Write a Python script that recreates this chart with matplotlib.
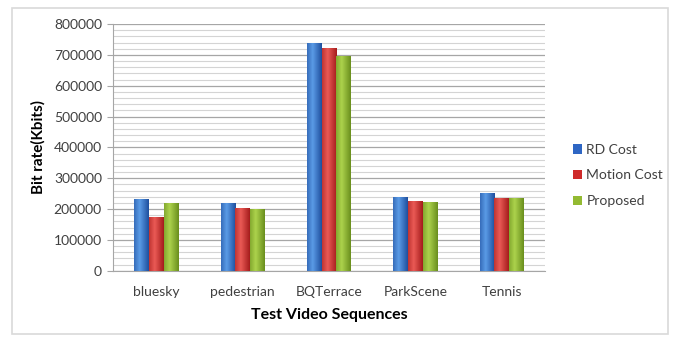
import numpy as np
import matplotlib
matplotlib.use("Agg")
import matplotlib.pyplot as plt
from matplotlib.colors import LinearSegmentedColormap
from matplotlib.patches import Rectangle
from matplotlib.ticker import MultipleLocator, FuncFormatter

categories = ["bluesky", "pedestrian", "BQTerrace", "ParkScene", "Tennis"]
series_names = ["RD Cost", "Motion Cost", "Proposed"]
rd_cost = [232000, 218000, 740000, 240000, 251000]
motion_cost = [175000, 204000, 722000, 227000, 235000]
proposed = [219000, 201000, 697000, 222000, 235000]
y_ticks = [0, 100000, 200000, 300000, 400000, 500000, 600000, 700000, 800000]

# (dark edge, light centre) for the cylinder-like shading
shades = [("#1f4f9e", "#5a9be6"), ("#a51c1c", "#ea5a55"), ("#6a8f1e", "#acd24c")]
legend_colors = ["#2e66c4", "#cf2a2a", "#93ba32"]

plt.rcParams["font.family"] = ["Lato", "DejaVu Sans"]

fig = plt.figure(figsize=(6.77, 3.41), dpi=100)
fig.patches.append(Rectangle((12 / 677, 1 - 334 / 341), 656 / 677, 326 / 341,
                             transform=fig.transFigure, fill=False,
                             edgecolor="#d9d9d9", linewidth=1.2))
ax = fig.add_axes([113 / 677, 1 - 270.7 / 341, 432 / 677, 246.7 / 341])

x = np.arange(len(categories))
width = 0.17
grad = np.linspace(0, 1, 64)
grad = 1 - np.abs(grad - 0.38) / 0.62
grad = np.clip(grad, 0, 1)[None, :]

for i, vals in enumerate([rd_cost, motion_cost, proposed]):
    dark, light = shades[i]
    cmap = LinearSegmentedColormap.from_list(f"s{i}", [dark, light])
    bars = ax.bar(x + (i - 1) * width, vals, width, color=legend_colors[i],
                  label=series_names[i], zorder=3)
    for b in bars:
        x0, w, h = b.get_x(), b.get_width(), b.get_height()
        im = ax.imshow(grad, cmap=cmap, aspect="auto",
                       extent=[x0, x0 + w, 0, h], zorder=4, vmin=0, vmax=1)
        im.set_clip_path(b)

ax.set_xlim(-0.5, len(categories) - 0.5)
ax.set_ylim(0, 800000)
ax.set_yticks(y_ticks)
ax.yaxis.set_minor_locator(MultipleLocator(20000))
ax.yaxis.set_major_formatter(FuncFormatter(lambda v, p: f"{int(v)}"))
ax.set_xticks(x)
ax.set_xticklabels(categories)
ax.grid(axis="y", which="major", color="#a6a6a6", linewidth=0.9, zorder=0)
ax.grid(axis="y", which="minor", color="#d4d4d4", linewidth=0.8, zorder=0)
ax.set_axisbelow(True)

for s in ["top", "right"]:
    ax.spines[s].set_visible(False)
for s in ["left", "bottom"]:
    ax.spines[s].set_color("#a6a6a6")
ax.tick_params(axis="y", which="major", length=4, color="#a6a6a6",
               labelsize=10, labelcolor="#404040", pad=4)
ax.tick_params(axis="y", which="minor", length=0)
ax.tick_params(axis="x", length=0, labelsize=10, labelcolor="#404040", pad=11)

ax.set_ylabel("Bit rate(Kbits)", fontsize=11, fontweight="bold", labelpad=6)
ax.set_xlabel("Test Video Sequences", fontsize=11.5, fontweight="bold", labelpad=7)

handles, labels = ax.get_legend_handles_labels()
leg = fig.legend(handles, labels, loc="upper left",
                 bbox_to_anchor=(560 / 677, 1 - 131 / 341), frameon=False,
                 fontsize=10, handlelength=0.7, handleheight=0.7,
                 handletextpad=0.3, labelspacing=1.0)
for t in leg.get_texts():
    t.set_color("#404040")

fig.savefig("out.png", dpi=100)
